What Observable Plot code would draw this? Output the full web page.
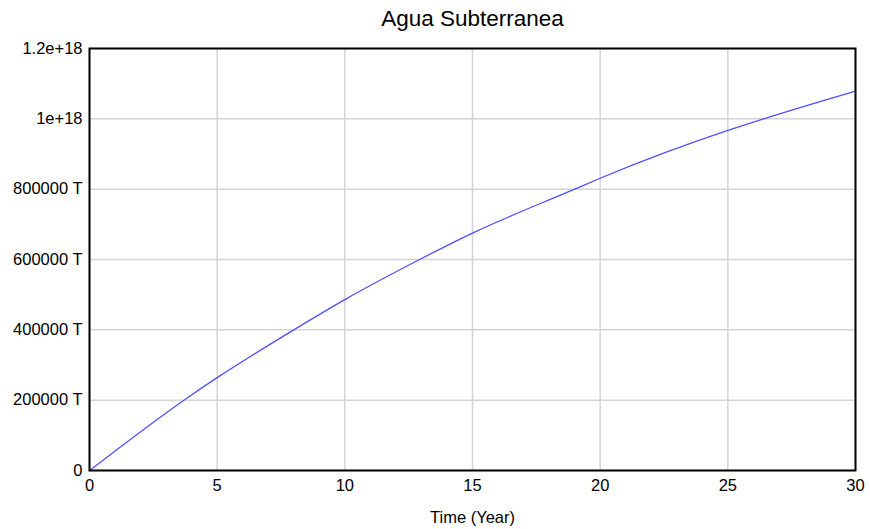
<!DOCTYPE html>
<html>
<head>
<meta charset="utf-8">
<script src="https://cdn.jsdelivr.net/npm/d3@7"></script>
<script src="https://cdn.jsdelivr.net/npm/@observablehq/plot@0.6"></script>
<style>
  html, body { margin: 0; padding: 0; background: #fff; }
  #chart svg { display: block; }
</style>
</head>
<body>
<div id="chart"></div>
<script>
const chartTitle = "Agua Subterranea";
const xLabel = "Time (Year)";
const years = [0, 3.7, 5, 8, 10, 12.93, 15, 19, 20, 25, 26.4, 30];
const aguaSubterranea = [0, 2.0e17, 2.64e17, 4.0e17, 4.86e17, 6.0e17, 6.75e17, 8.0e17, 8.31e17, 9.67e17, 1.0e18, 1.079e18];
const xTicks = [0, 5, 10, 15, 20, 25, 30];
const yTicks = [0, 2e17, 4e17, 6e17, 8e17, 1e18, 1.2e18];
const yTickLabels = ["0", "200000 T", "400000 T", "600000 T", "800000 T", "1e+18", "1.2e+18"];

const data = years.map((t, i) => ({t, v: aguaSubterranea[i]}));
const labelOf = new Map(yTicks.map((v, i) => [v, yTickLabels[i]]));

const chart = Plot.plot({
  width: 870,
  height: 529,
  marginLeft: 89,
  marginRight: 15,
  marginTop: 48,
  marginBottom: 59,
  style: {fontFamily: "'Liberation Sans', Arial, sans-serif", fontSize: "16.5px", color: "#000", background: "#fff"},
  x: {domain: [0, 30], ticks: xTicks},
  y: {domain: [0, 1.2e18], ticks: yTicks},
  marks: [
    Plot.gridX(xTicks, {stroke: "#d4d4d4", strokeOpacity: 1, strokeWidth: 1.5}),
    Plot.gridY(yTicks, {stroke: "#d4d4d4", strokeOpacity: 1, strokeWidth: 1.5}),
    Plot.line(data, {x: "t", y: "v", stroke: "#5050ff", strokeWidth: 1.3, curve: "monotone-x"}),
    Plot.frame({stroke: "#000", strokeWidth: 2}),
    Plot.axisX(xTicks, {tickSize: 0, tickPadding: 9, fontSize: 16.5, label: null}),
    Plot.axisY(yTicks, {tickSize: 0, tickPadding: 7, fontSize: 16.5, label: null, tickFormat: d => labelOf.get(d)}),
    Plot.text([xLabel], {frameAnchor: "bottom", lineAnchor: "middle", dy: 47, fontSize: 16.5, text: d => d}),
    Plot.text([chartTitle], {frameAnchor: "top", lineAnchor: "middle", dy: -30, fontSize: 22.5, text: d => d})
  ]
});
document.getElementById("chart").appendChild(chart);
</script>
</body>
</html>
